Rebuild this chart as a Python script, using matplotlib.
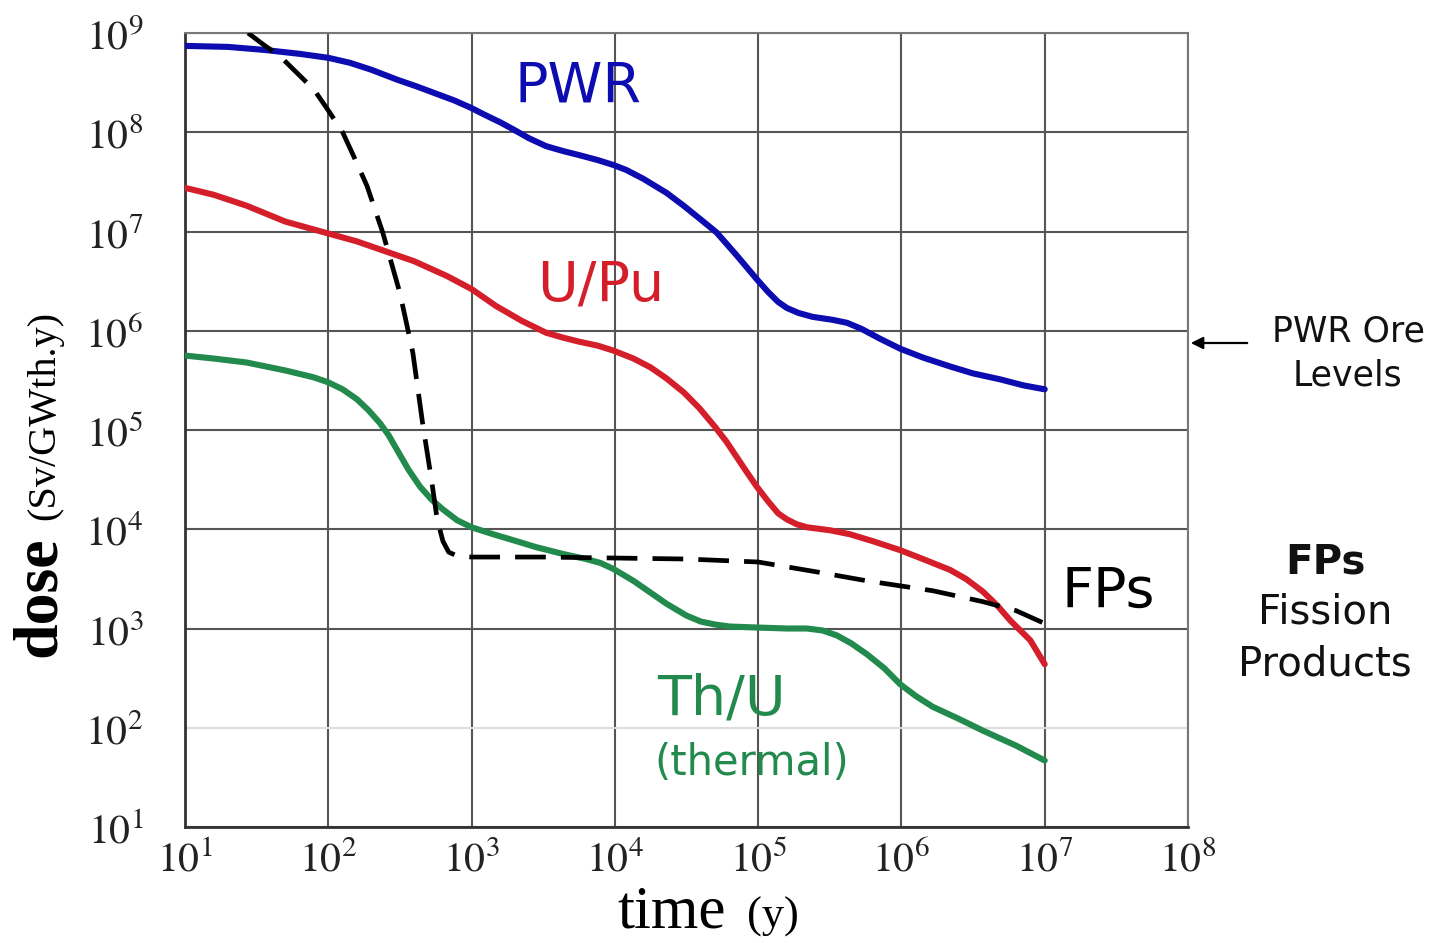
import numpy as np
import matplotlib
matplotlib.use("Agg")
import matplotlib.pyplot as plt
from matplotlib import ticker

plt.rcParams['mathtext.fontset'] = 'stix'
plt.rcParams['font.family'] = ['DejaVu Sans']

# ---- data (log10 of time in years, log10 of dose in Sv/GWth.y) ----
pwr_logt = [1.0, 1.3, 1.55, 1.8, 2.0, 2.15, 2.3, 2.48, 2.62, 2.75, 2.88, 2.99, 3.1, 3.2, 3.29,
            3.4, 3.52, 3.64, 3.75, 3.88, 3.99, 4.08, 4.2, 4.36, 4.48, 4.6, 4.71, 4.85, 4.99,
            5.07, 5.14, 5.2, 5.28, 5.38, 5.52, 5.62, 5.72, 5.85, 5.99, 6.15, 6.34, 6.5, 6.69,
            6.85, 7.0]
pwr_logd = [8.87, 8.86, 8.83, 8.79, 8.75, 8.7, 8.63, 8.53, 8.46, 8.39, 8.32, 8.25, 8.17, 8.1,
            8.03, 7.94, 7.86, 7.81, 7.77, 7.72, 7.67, 7.62, 7.53, 7.39, 7.26, 7.12, 6.99, 6.76,
            6.52, 6.39, 6.29, 6.23, 6.18, 6.14, 6.11, 6.08, 6.02, 5.92, 5.82, 5.73, 5.64, 5.57,
            5.51, 5.45, 5.41]

upu_logt = [1.0, 1.2, 1.43, 1.7, 2.0, 2.2, 2.36, 2.6, 2.83, 3.0, 3.17, 3.35, 3.52, 3.64, 3.75,
            3.88, 3.99, 4.13, 4.25, 4.36, 4.48, 4.59, 4.7, 4.78, 4.9, 4.99, 5.07, 5.14, 5.2,
            5.27, 5.34, 5.5, 5.64, 5.8, 5.99, 6.15, 6.34, 6.45, 6.57, 6.67, 6.76, 6.9, 7.0]
upu_logd = [7.44, 7.37, 7.26, 7.1, 6.98, 6.9, 6.82, 6.7, 6.55, 6.42, 6.25, 6.1, 5.98, 5.93,
            5.89, 5.85, 5.8, 5.72, 5.63, 5.52, 5.38, 5.22, 5.03, 4.88, 4.62, 4.43, 4.28, 4.16,
            4.1, 4.05, 4.02, 3.99, 3.95, 3.88, 3.79, 3.7, 3.59, 3.5, 3.37, 3.23, 3.08, 2.88, 2.64]

thu_logt = [1.0, 1.2, 1.43, 1.7, 1.9, 2.0, 2.1, 2.2, 2.28, 2.36, 2.42, 2.48, 2.56, 2.64, 2.72,
            2.8, 2.9, 3.0, 3.15, 3.29, 3.45, 3.64, 3.8, 3.9, 3.99, 4.13, 4.25, 4.36, 4.5,
            4.6, 4.7, 4.8, 4.99, 5.2, 5.34, 5.45, 5.55, 5.65, 5.76, 5.88, 5.99, 6.1, 6.22,
            6.4, 6.57, 6.8, 7.0]
thu_logd = [5.75, 5.72, 5.68, 5.6, 5.53, 5.48, 5.41, 5.31, 5.2, 5.07, 4.95, 4.8, 4.6, 4.43,
            4.3, 4.2, 4.09, 4.02, 3.95, 3.89, 3.82, 3.75, 3.7, 3.66, 3.6, 3.48, 3.36, 3.25,
            3.13, 3.07, 3.04, 3.02, 3.01, 3.0, 3.0, 2.98, 2.93, 2.85, 2.74, 2.6, 2.44, 2.32,
            2.21, 2.09, 1.97, 1.82, 1.67]

fp_logt = [1.44, 1.55, 1.66, 1.78, 1.9, 2.0, 2.1, 2.18, 2.27, 2.38, 2.5, 2.59, 2.66, 2.72,
           2.76, 2.8, 2.84, 2.9, 3.0, 3.5, 4.0, 4.5, 5.0, 5.41, 5.76, 6.22, 6.57, 6.8, 7.0]
fp_logd = [9.0, 8.88, 8.77, 8.6, 8.43, 8.22, 8.0, 7.75, 7.46, 6.99, 6.38, 5.78, 5.05, 4.5,
           4.1, 3.88, 3.77, 3.73, 3.72, 3.72, 3.71, 3.7, 3.67, 3.57, 3.48, 3.38, 3.27, 3.18, 3.05]

x_exponents = [1, 2, 3, 4, 5, 6, 7, 8]
y_exponents = [1, 2, 3, 4, 5, 6, 7, 8, 9]

W, H = 1441, 943
fig = plt.figure(figsize=(W / 100, H / 100), dpi=100)
ax = fig.add_axes([185 / W, 1 - 827 / H, (1188 - 185) / W, (827 - 33) / H])

def p(a):
    return 10 ** np.asarray(a, dtype=float)

common = dict(lw=4.4, solid_capstyle='round', solid_joinstyle='round', zorder=4)
ax.plot(p(pwr_logt), p(pwr_logd), color='#0c0cb0', **common)
ax.plot(p(upu_logt), p(upu_logd), color='#d41f2b', **common)
ax.plot(p(thu_logt), p(thu_logd), color='#218a4c', **common)
ax.plot(p(fp_logt), p(fp_logd), color='black', lw=3.4, dashes=(6.5, 3.2),
        dash_joinstyle='round', zorder=5)

ax.set_xscale('log')
ax.set_yscale('log')
ax.set_xlim(10 ** x_exponents[0], 10 ** x_exponents[-1])
ax.set_ylim(10 ** y_exponents[0], 10 ** y_exponents[-1])
ax.set_xticks([10.0 ** e for e in x_exponents])
ax.set_yticks([10.0 ** e for e in y_exponents])
ax.xaxis.set_minor_locator(ticker.NullLocator())
ax.yaxis.set_minor_locator(ticker.NullLocator())
fmt = ticker.FuncFormatter(lambda v, pos: r'$10^{%d}$' % int(round(np.log10(v))))
ax.xaxis.set_major_formatter(fmt)
ax.yaxis.set_major_formatter(fmt)
ax.tick_params(axis='both', length=0, labelsize=30, colors='#222222')
ax.tick_params(axis='x', pad=8)
ax.tick_params(axis='y', pad=30)

ax.grid(True, which='major', color='#555555', lw=1.5, zorder=1)
ax.set_axisbelow(True)
# faint 10^2 horizontal grid line as in the reference
ax.get_ygridlines()[1].set_color('#dddddd')

for s in ['left', 'bottom']:
    ax.spines[s].set_color('#333333')
    ax.spines[s].set_linewidth(2)
for s in ['top', 'right']:
    ax.spines[s].set_color('#777777')
    ax.spines[s].set_linewidth(1.5)

def fx(px):
    return px / W

def fy(py):
    return 1 - py / H

# curve labels
fig.text(fx(578), fy(87), 'PWR', color='#0c0cb0', fontsize=40, ha='center', va='center')
fig.text(fx(601), fy(285), 'U/Pu', color='#d41f2b', fontsize=40, ha='center', va='center')
fig.text(fx(721), fy(699), 'Th/U', color='#218a4c', fontsize=40, ha='center', va='center')
fig.text(fx(752), fy(763), '(thermal)', color='#218a4c', fontsize=30, ha='center', va='center')
fig.text(fx(1108), fy(592), 'FPs', color='black', fontsize=40, ha='center', va='center')

# right-side notes
fig.text(fx(1348), fy(331), 'PWR Ore', color='#111111', fontsize=25, ha='center', va='center')
fig.text(fx(1348), fy(376), 'Levels', color='#111111', fontsize=25, ha='center', va='center')
fig.text(fx(1325), fy(563), 'FPs', color='#111111', fontsize=29, fontweight='bold',
         ha='center', va='center')
fig.text(fx(1325), fy(613), 'Fission', color='#111111', fontsize=29, ha='center', va='center')
fig.text(fx(1325), fy(665), 'Products', color='#111111', fontsize=29, ha='center', va='center')
ax.annotate('', xy=(1.0, (827 - 343) / (827 - 33)), xycoords='axes fraction',
            xytext=((1250 - 185) / (1188 - 185), (827 - 343) / (827 - 33)),
            textcoords='axes fraction',
            arrowprops=dict(arrowstyle='-|>', color='black', lw=1.6, mutation_scale=18),
            annotation_clip=False)

# axis labels (serif)
serif = ['Liberation Serif', 'DejaVu Serif']
fig.text(fx(672), fy(913), 'time', family=serif, fontsize=44, ha='center', va='center')
fig.text(fx(773), fy(917), '(y)', family=serif, fontsize=32, ha='center', va='center')
fig.text(fx(40), fy(597), 'dose', family=serif, fontsize=46, fontweight='bold',
         rotation=90, ha='center', va='center')
fig.text(fx(45), fy(415), '(Sv/GWth.y)', family=serif, fontsize=29,
         rotation=90, ha='center', va='center')

fig.savefig('out.png', dpi=100)
